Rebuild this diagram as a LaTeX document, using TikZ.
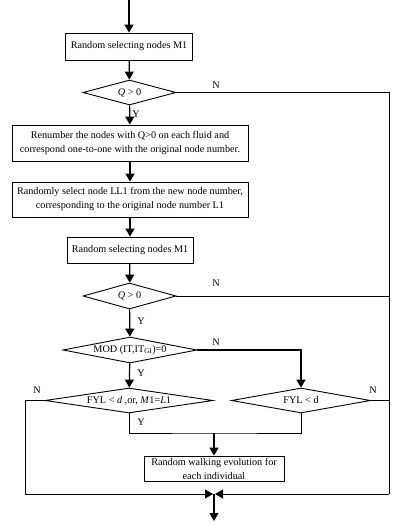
\documentclass[tikz,border=0pt]{standalone}
\usepackage{fontspec}
\setmainfont{Liberation Serif}
\usetikzlibrary{arrows.meta,shapes.geometric}
\begin{document}
\begin{tikzpicture}[x=1pt, y=-1pt, font=\fontsize{10.2}{14}\selectfont,
    proc/.style={draw, line width=0.9pt, align=center, inner sep=0pt},
    dec/.style={draw, diamond, line width=0.9pt, inner sep=0pt},
    arr/.style={line width=1.2pt, -{Triangle[length=8pt,width=9pt]}},
    ln/.style={line width=0.8pt},
    lab/.style={inner sep=0pt}]
    \useasboundingbox (0,0) rectangle (401,525);
    
    \coordinate (start) at (129,0);
    \node[proc, minimum width=127, minimum height=27] (sel1) at (129,46.5) {Random selecting nodes M1};
    \node[dec, aspect=3.7, minimum width=93, minimum height=25] (q1) at (129.5,92.5) {\textit{Q} > 0};
    \node[proc, minimum width=236, minimum height=36] (renum) at (130,143) {Renumber the nodes with Q>0 on each fluid and\\correspond one-to-one with the original node number.};
    \node[proc, minimum width=236, minimum height=35] (pick) at (130,199.5) {Randomly select node LL1 from the new node number,\\corresponding to the original node number L1};
    \node[proc, minimum width=126, minimum height=26] (sel2) at (130,250) {Random selecting nodes M1};
    \node[dec, aspect=3.6, minimum width=93, minimum height=26] (q2) at (129.5,296) {\textit{Q} > 0};
    \node[dec, aspect=5.15, minimum width=134, minimum height=26] (mod) at (130,350) {MOD (IT,IT\textsubscript{GI})=0};
    \node[dec, aspect=6.7, minimum width=168, minimum height=25] (fyl1) at (129,400.5) {FYL < \textit{d} ,or, \textit{M}1=\textit{L}1};
    \node[dec, aspect=5.5, minimum width=139, minimum height=25] (fyl2) at (301,400.5) {FYL < d};
    \node[proc, minimum width=140, minimum height=25] (walk) at (214,468.5) {Random walking evolution for\\each individual};
    \coordinate (rbot) at (389,494);
    \coordinate (lbot) at (25,494);
    \coordinate (merge) at (214,494);
    \coordinate (join) at (214,433);
    \coordinate (end) at (214,521);
    
    \draw[arr] (start) -- (sel1);
    \draw[arr] (sel1) -- (q1);
    \draw[arr] (q1) -- (renum);
    \draw[arr] (renum) -- (pick);
    \draw[arr] (pick) -- (sel2);
    \draw[arr] (sel2) -- (q2);
    \draw[arr] (q2) -- (mod);
    \draw[arr] (mod) -- (fyl1);
    \draw[arr] (mod.east) -| (fyl2.north);
    \draw[ln] (q1.east) -- (q1.east -| rbot) -- (rbot);
    \draw[ln] (q2.east) -- (q2.east -| rbot);
    \draw[ln] (fyl2.east) -- (fyl2.east -| rbot);
    \draw[ln] (fyl1.west) -- (fyl1.west -| lbot) -- (lbot);
    \draw[ln] (fyl1.south) |- (join) -| (fyl2.south);
    \draw[arr] (join) -- (walk);
    \draw[arr, line width=0.8pt] (lbot) -- ([xshift=-1]merge);
    \draw[arr, line width=0.8pt] (rbot) -- ([xshift=1]merge);
    \draw[arr] (merge) -- (end);
    
    \node[lab] (n1) at (216,85) {N};
    \node[lab] (y1) at (136,114) {Y};
    \node[lab] (n2) at (216,283) {N};
    \node[lab] (y2) at (141,321) {Y};
    \node[lab] (n3) at (216,342) {N};
    \node[lab] (y3) at (141,373) {Y};
    \node[lab] (n4) at (37,390) {N};
    \node[lab] (y4) at (141,422) {Y};
    \node[lab] (n5) at (373,390) {N};
\end{tikzpicture}
\end{document}
